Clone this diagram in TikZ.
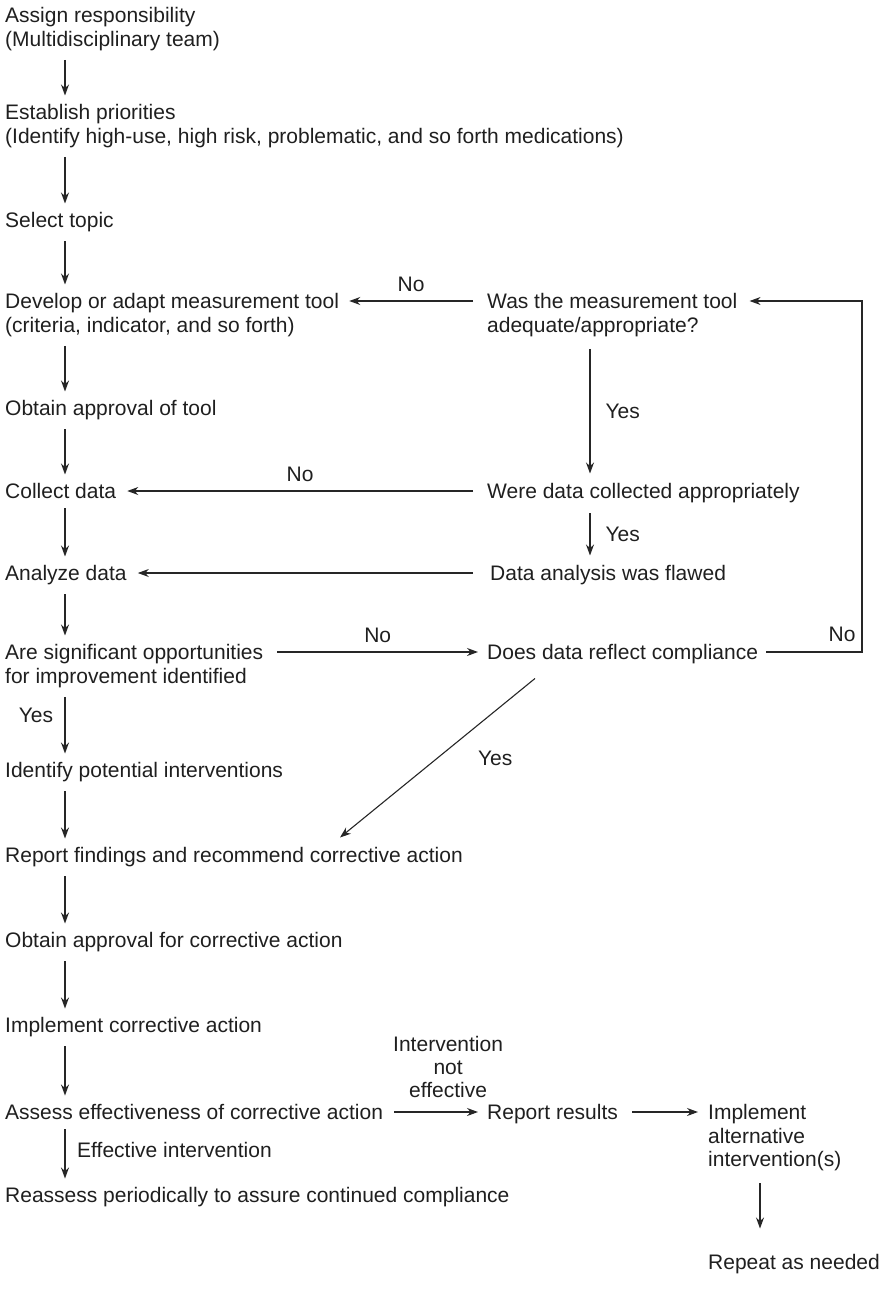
\documentclass[tikz,border=0pt]{standalone}
\usepackage{fontspec}
\setmainfont{Liberation Sans}
\usetikzlibrary{arrows.meta,calc}
\begin{document}
\begin{tikzpicture}[x=1pt,y=-1pt,
  txt/.style={anchor=north west,inner sep=0pt,align=left,text=black!88,
    font=\fontsize{21}{23.5}\selectfont},
  lbl/.style={inner sep=0pt,text=black!88,font=\fontsize{21}{23}\selectfont},
  arr/.style={-{Stealth[length=11pt,width=8pt]},line width=1.1pt,black!85}]
\useasboundingbox (0,0) rectangle (892,1290);
\coordinate (lc) at (65,0);
\coordinate (rc) at (590,0);
\coordinate (ac) at (760,0);
\coordinate (loopx) at (862,0);
% left column of steps
\node[txt] (assign) at (5,7.5) {Assign responsibility\\(Multidisciplinary team)};
\node[txt] (prio) at (5,104.5) {Establish priorities\\(Identify high-use, high risk, problematic, and so forth medications)};
\node[txt] (topic) at (5,212.5) {Select topic};
\node[txt] (develop) at (5,293.5) {Develop or adapt measurement tool\\(criteria, indicator, and so forth)};
\node[txt] (apptool) at (5,400.5) {Obtain approval of tool};
\node[txt] (collect) at (5,483.5) {Collect data};
\node[txt] (analyze) at (5,565.5) {Analyze data};
\node[txt] (signif) at (5,644.5) {Are significant opportunities\\for improvement identified};
\node[txt] (interv) at (5,762.5) {Identify potential interventions};
\node[txt] (findings) at (5,847.5) {Report findings and recommend corrective action};
\node[txt] (appcorr) at (5,932.5) {Obtain approval for corrective action};
\node[txt] (impl) at (5,1017.5) {Implement corrective action};
\node[txt] (assess) at (5,1104.5) {Assess effectiveness of corrective action};
\node[txt] (reassess) at (5,1187.5) {Reassess periodically to assure continued compliance};
% right column of checks
\node[txt] (tooladq) at (487,293.5) {Was the measurement tool\\adequate/appropriate?};
\node[txt] (datacol) at (487,483.5) {Were data collected appropriately};
\node[txt] (flawed) at (490,565.5) {Data analysis was flawed};
\node[txt] (compl) at (487,644.5) {Does data reflect compliance};
\node[txt] (results) at (487,1104.5) {Report results};
\node[txt] (altint) at (708,1104.5) {Implement\\alternative\\intervention(s)};
\node[txt] (repeat) at (708,1254.5) {Repeat as needed};
% main vertical flow
\foreach \a/\b in {assign/prio,prio/topic,topic/develop,develop/apptool,apptool/collect,
    collect/analyze,analyze/signif,signif/interv,interv/findings,findings/appcorr,
    appcorr/impl,impl/assess,assess/reassess}
  \draw[arr] ($(\a.south -| lc)+(0,9)$) -- ($(\b.north -| lc)+(0,-9)$);
% branches
\draw[arr] ($(tooladq.north west)+(-14,7.5)$) -- ($(develop.north east)+(10,7.5)$)
  node[lbl,midway,above=9pt] {No};
\draw[arr] ($(tooladq.south -| rc)+(0,12)$) -- ($(datacol.north -| rc)+(0,-10)$)
  node[lbl,midway,right=15pt] {Yes};
\draw[arr] ($(datacol.north west)+(-14,7.5)$) -- ($(collect.north east)+(11,7.5)$)
  node[lbl,midway,above=9pt] {No};
\draw[arr] ($(datacol.south -| rc)+(0,10)$) -- ($(flawed.north -| rc)+(0,-10)$)
  node[lbl,midway,right=15pt] {Yes};
\draw[arr] ($(flawed.north west)+(-17,7.5)$) -- ($(analyze.north east)+(11,7.5)$);
\draw[arr] ($(signif.north east)+(14,7.5)$) -- ($(compl.north west)+(-9,7.5)$)
  node[lbl,midway,above=9pt] {No};
\coordinate (loopa) at ($(compl.north east)+(8,7.5)$);
\draw[arr] (loopa) -- (loopa -| loopx) |- ($(tooladq.north east)+(12,7.5)$);
\node[lbl] (loopno) at (842,634) {No};
\draw[arr] ($(compl.south west)+(48,14)$) -- ($(findings.north west)+(335,-10)$)
  node[lbl,pos=0.5,anchor=west,xshift=40pt] {Yes};
\node[lbl] (yesl) at (36,715) {Yes};
\node[lbl,anchor=west] (effint) at (77,1150) {Effective intervention};
\draw[arr] ($(assess.north east)+(11,7.5)$) -- ($(results.north west)+(-9,7.5)$)
  node[lbl,midway,above=14pt,xshift=12pt,align=center] {Intervention\\not\\effective};
\draw[arr] ($(results.north east)+(14,7.5)$) -- ($(altint.north west)+(-10,7.5)$);
\draw[arr] ($(altint.south -| ac)+(0,12)$) -- ($(repeat.north -| ac)+(0,-26)$);
\end{tikzpicture}
\end{document}
